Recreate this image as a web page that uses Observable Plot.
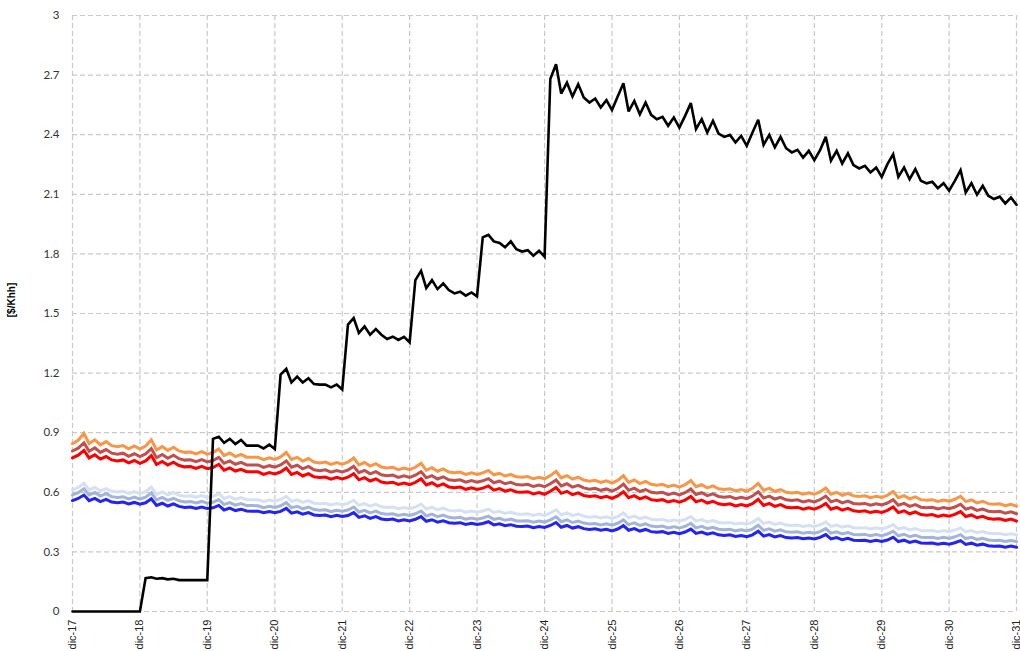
<!DOCTYPE html>
<html>
<head>
<meta charset="utf-8">
<script src="https://cdn.jsdelivr.net/npm/d3@7"></script>
<script src="https://cdn.jsdelivr.net/npm/@observablehq/plot@0.6"></script>
<style>
  html, body { margin: 0; padding: 0; background: #fff; }
  #chart { width: 1020px; height: 651px; }
</style>
</head>
<body>
<div id="chart"></div>
<script>
// Monthly series, dic-17 .. dic-31 (169 months)
const xTickLabels = ["dic-17","dic-18","dic-19","dic-20","dic-21","dic-22","dic-23","dic-24","dic-25","dic-26","dic-27","dic-28","dic-29","dic-30","dic-31"];
const yTicks = [0, 0.3, 0.6, 0.9, 1.2, 1.5, 1.8, 2.1, 2.4, 2.7, 3];

const seriesBlack = [
  0,0,0,0,0,0,0,0,0,0,0,0,0,
  0.168,0.172,0.165,0.168,0.162,0.165,0.158,0.158,0.158,0.158,0.158,0.158,
  0.869,0.880,0.849,0.869,0.843,0.864,0.835,0.835,0.835,0.821,0.840,0.818,
  1.192,1.221,1.153,1.182,1.153,1.174,1.145,1.142,1.142,1.128,1.142,1.117,
  1.444,1.477,1.402,1.435,1.393,1.422,1.393,1.372,1.383,1.367,1.383,1.355,
  1.668,1.715,1.628,1.668,1.623,1.651,1.618,1.601,1.610,1.590,1.606,1.586,
  1.883,1.896,1.863,1.855,1.833,1.863,1.824,1.812,1.819,1.791,1.816,1.786,
  2.680,2.755,2.607,2.662,2.592,2.654,2.587,2.562,2.582,2.537,2.574,2.524,
  2.592,2.659,2.517,2.570,2.503,2.562,2.500,2.478,2.490,2.445,2.487,2.436,
  2.495,2.559,2.428,2.478,2.411,2.470,2.406,2.389,2.399,2.361,2.394,2.344,
  2.411,2.475,2.349,2.399,2.336,2.389,2.332,2.311,2.324,2.285,2.319,2.272,
  2.322,2.389,2.269,2.319,2.255,2.306,2.247,2.230,2.243,2.210,2.235,2.188,
  2.252,2.302,2.188,2.235,2.176,2.227,2.168,2.155,2.163,2.131,2.156,2.118,
  2.168,2.222,2.109,2.156,2.098,2.143,2.093,2.076,2.088,2.054,2.084,2.047
];

const seriesOrange = [
  0.845,
  0.862,0.897,0.845,0.864,0.839,0.855,0.835,0.830,0.835,0.819,0.833,0.818,
  0.833,0.864,0.813,0.830,0.810,0.827,0.808,0.801,0.803,0.793,0.805,0.792,
  0.800,0.818,0.785,0.798,0.780,0.791,0.777,0.777,0.777,0.764,0.774,0.766,
  0.778,0.801,0.765,0.776,0.757,0.770,0.752,0.748,0.752,0.740,0.750,0.742,
  0.752,0.773,0.738,0.750,0.732,0.744,0.727,0.722,0.726,0.714,0.722,0.714,
  0.726,0.746,0.712,0.724,0.706,0.718,0.702,0.698,0.702,0.690,0.698,0.690,
  0.698,0.710,0.688,0.696,0.682,0.690,0.678,0.676,0.679,0.668,0.676,0.668,
  0.684,0.706,0.672,0.684,0.666,0.676,0.662,0.656,0.660,0.650,0.658,0.646,
  0.660,0.684,0.650,0.662,0.644,0.655,0.640,0.636,0.640,0.628,0.636,0.626,
  0.638,0.659,0.628,0.638,0.622,0.632,0.618,0.614,0.618,0.607,0.614,0.606,
  0.620,0.645,0.610,0.621,0.604,0.614,0.600,0.597,0.600,0.590,0.597,0.590,
  0.602,0.622,0.590,0.600,0.585,0.595,0.582,0.579,0.582,0.573,0.580,0.574,
  0.585,0.604,0.573,0.583,0.567,0.577,0.563,0.560,0.563,0.554,0.561,0.555,
  0.565,0.580,0.553,0.562,0.547,0.555,0.543,0.540,0.542,0.533,0.540,0.530
];

const seriesBrown = [
  0.808,
  0.822,0.849,0.807,0.824,0.801,0.815,0.797,0.792,0.797,0.781,0.794,0.780,
  0.793,0.820,0.774,0.790,0.771,0.787,0.769,0.762,0.764,0.754,0.765,0.753,
  0.760,0.776,0.746,0.758,0.741,0.751,0.738,0.738,0.738,0.725,0.734,0.727,
  0.738,0.758,0.726,0.736,0.718,0.730,0.713,0.709,0.713,0.701,0.710,0.703,
  0.712,0.731,0.699,0.710,0.693,0.704,0.688,0.683,0.687,0.675,0.683,0.675,
  0.686,0.704,0.673,0.684,0.667,0.678,0.663,0.659,0.663,0.651,0.659,0.651,
  0.658,0.669,0.648,0.656,0.643,0.650,0.639,0.637,0.640,0.629,0.636,0.628,
  0.643,0.662,0.632,0.643,0.626,0.635,0.622,0.616,0.620,0.610,0.617,0.606,
  0.619,0.641,0.610,0.621,0.604,0.614,0.600,0.596,0.600,0.588,0.596,0.587,
  0.598,0.617,0.589,0.598,0.583,0.592,0.579,0.575,0.579,0.568,0.575,0.568,
  0.581,0.603,0.571,0.581,0.566,0.575,0.562,0.559,0.562,0.552,0.559,0.552,
  0.563,0.581,0.552,0.561,0.547,0.556,0.544,0.541,0.544,0.535,0.542,0.536,
  0.546,0.563,0.535,0.544,0.529,0.538,0.525,0.522,0.525,0.516,0.523,0.517,
  0.526,0.540,0.515,0.523,0.509,0.516,0.505,0.502,0.504,0.495,0.502,0.492
];

const seriesRed = [
  0.773,
  0.787,0.811,0.773,0.789,0.767,0.780,0.763,0.758,0.763,0.748,0.760,0.746,
  0.758,0.785,0.740,0.755,0.737,0.752,0.735,0.728,0.730,0.720,0.731,0.719,
  0.725,0.741,0.711,0.723,0.707,0.716,0.704,0.703,0.703,0.690,0.699,0.692,
  0.702,0.722,0.690,0.700,0.682,0.694,0.678,0.674,0.677,0.666,0.675,0.667,
  0.676,0.694,0.663,0.674,0.657,0.668,0.652,0.647,0.651,0.640,0.647,0.639,
  0.650,0.668,0.637,0.648,0.631,0.642,0.627,0.623,0.627,0.615,0.623,0.614,
  0.621,0.632,0.611,0.619,0.606,0.613,0.602,0.600,0.603,0.592,0.599,0.590,
  0.605,0.624,0.595,0.605,0.588,0.597,0.584,0.579,0.583,0.573,0.580,0.569,
  0.582,0.603,0.573,0.583,0.567,0.577,0.563,0.559,0.563,0.551,0.559,0.550,
  0.561,0.579,0.552,0.561,0.546,0.555,0.542,0.538,0.542,0.531,0.538,0.531,
  0.543,0.565,0.534,0.544,0.529,0.538,0.525,0.522,0.525,0.515,0.522,0.515,
  0.526,0.544,0.515,0.524,0.510,0.519,0.507,0.504,0.507,0.498,0.505,0.499,
  0.509,0.526,0.498,0.507,0.492,0.501,0.488,0.485,0.488,0.479,0.486,0.480,
  0.489,0.503,0.478,0.486,0.472,0.479,0.468,0.465,0.467,0.458,0.465,0.455
];

const seriesLightBlue = [
  0.612,
  0.624,0.645,0.612,0.625,0.607,0.619,0.605,0.601,0.605,0.594,0.603,0.593,
  0.603,0.626,0.590,0.602,0.587,0.599,0.585,0.580,0.582,0.575,0.583,0.574,
  0.580,0.593,0.569,0.578,0.565,0.573,0.563,0.563,0.563,0.554,0.561,0.555,
  0.564,0.580,0.555,0.562,0.549,0.558,0.545,0.542,0.545,0.536,0.543,0.538,
  0.545,0.560,0.535,0.543,0.530,0.539,0.527,0.523,0.526,0.517,0.523,0.517,
  0.526,0.541,0.516,0.525,0.512,0.520,0.509,0.506,0.509,0.500,0.506,0.500,
  0.506,0.515,0.499,0.504,0.494,0.500,0.491,0.490,0.492,0.484,0.490,0.484,
  0.496,0.512,0.487,0.496,0.483,0.490,0.480,0.475,0.478,0.471,0.477,0.468,
  0.478,0.496,0.471,0.480,0.467,0.475,0.464,0.461,0.464,0.455,0.461,0.454,
  0.463,0.478,0.455,0.463,0.451,0.458,0.448,0.445,0.448,0.440,0.445,0.439,
  0.449,0.468,0.442,0.450,0.438,0.445,0.435,0.433,0.435,0.428,0.433,0.428,
  0.436,0.451,0.428,0.435,0.424,0.431,0.422,0.420,0.422,0.415,0.421,0.416,
  0.424,0.438,0.415,0.423,0.411,0.418,0.408,0.406,0.408,0.402,0.407,0.402,
  0.410,0.421,0.401,0.407,0.397,0.402,0.394,0.392,0.393,0.386,0.391,0.386
];

const seriesGreyBlue = [
  0.587,
  0.598,0.618,0.587,0.599,0.581,0.593,0.578,0.574,0.578,0.567,0.576,0.566,
  0.575,0.597,0.562,0.574,0.559,0.570,0.557,0.551,0.553,0.546,0.554,0.545,
  0.550,0.563,0.539,0.548,0.535,0.543,0.533,0.533,0.532,0.523,0.530,0.524,
  0.532,0.548,0.523,0.530,0.517,0.526,0.513,0.510,0.512,0.503,0.510,0.505,
  0.511,0.526,0.501,0.509,0.496,0.505,0.493,0.489,0.492,0.483,0.489,0.483,
  0.492,0.506,0.481,0.490,0.477,0.485,0.474,0.471,0.474,0.465,0.471,0.465,
  0.471,0.480,0.464,0.469,0.459,0.465,0.456,0.455,0.457,0.449,0.455,0.450,
  0.461,0.477,0.452,0.461,0.448,0.455,0.445,0.440,0.443,0.436,0.442,0.434,
  0.444,0.461,0.437,0.446,0.433,0.441,0.430,0.427,0.430,0.421,0.427,0.420,
  0.429,0.444,0.421,0.429,0.417,0.424,0.414,0.411,0.414,0.406,0.411,0.405,
  0.415,0.434,0.408,0.416,0.404,0.411,0.401,0.399,0.401,0.394,0.399,0.394,
  0.402,0.417,0.394,0.401,0.390,0.397,0.388,0.386,0.388,0.381,0.387,0.382,
  0.390,0.404,0.381,0.389,0.377,0.384,0.374,0.372,0.374,0.368,0.373,0.368,
  0.376,0.387,0.367,0.373,0.363,0.368,0.360,0.358,0.359,0.352,0.357,0.352
];

const seriesBlue = [
  0.558,
  0.569,0.586,0.558,0.569,0.553,0.564,0.551,0.547,0.551,0.541,0.549,0.540,
  0.547,0.567,0.534,0.545,0.531,0.542,0.529,0.524,0.526,0.519,0.526,0.518,
  0.522,0.534,0.511,0.520,0.508,0.515,0.506,0.505,0.505,0.497,0.503,0.497,
  0.504,0.519,0.495,0.502,0.490,0.498,0.486,0.483,0.486,0.477,0.484,0.478,
  0.483,0.498,0.474,0.482,0.469,0.478,0.466,0.462,0.465,0.456,0.462,0.456,
  0.464,0.478,0.454,0.462,0.450,0.457,0.447,0.444,0.447,0.438,0.444,0.438,
  0.443,0.452,0.436,0.441,0.432,0.437,0.429,0.428,0.430,0.422,0.428,0.423,
  0.433,0.448,0.424,0.433,0.420,0.427,0.417,0.413,0.416,0.409,0.414,0.406,
  0.415,0.432,0.409,0.417,0.405,0.413,0.402,0.399,0.402,0.393,0.399,0.392,
  0.400,0.415,0.393,0.400,0.389,0.396,0.386,0.383,0.386,0.378,0.383,0.377,
  0.386,0.404,0.379,0.387,0.375,0.382,0.372,0.370,0.372,0.366,0.370,0.365,
  0.373,0.387,0.365,0.372,0.361,0.368,0.359,0.357,0.359,0.352,0.358,0.353,
  0.360,0.374,0.352,0.359,0.348,0.355,0.345,0.343,0.345,0.339,0.344,0.339,
  0.346,0.357,0.338,0.344,0.334,0.339,0.331,0.329,0.330,0.324,0.329,0.323
];

const seriesList = [
  {name: "Gris azulado claro", values: seriesLightBlue, color: "#D5E1F2", width: 3},
  {name: "Gris azulado", values: seriesGreyBlue, color: "#A2B4D8", width: 3},
  {name: "Azul", values: seriesBlue, color: "#2323F2", width: 3},
  {name: "Naranja", values: seriesOrange, color: "#F79646", width: 3},
  {name: "Marrón", values: seriesBrown, color: "#C0504D", width: 3},
  {name: "Rojo", values: seriesRed, color: "#FF0000", width: 3},
  {name: "Negro", values: seriesBlack, color: "#000000", width: 2.6}
];

const months = d3.utcMonth.range(new Date(Date.UTC(2017, 11, 1)), new Date(Date.UTC(2032, 0, 1)));
const decTicks = months.filter(d => d.getUTCMonth() === 11);
const tickLabelOf = new Map(decTicks.map((d, i) => [+d, xTickLabels[i]]));

const marks = [
  Plot.gridY(yTicks, {stroke: "#c9c9c9", strokeOpacity: 1, strokeWidth: 1.2, strokeDasharray: "5,3"}),
  Plot.gridX(decTicks, {stroke: "#c9c9c9", strokeOpacity: 1, strokeWidth: 1.2, strokeDasharray: "5,3"}),
  Plot.axisY(yTicks, {
    tickSize: 0, tickPadding: 13, label: null,
    tickFormat: d => String(+d.toFixed(1)),
    fontSize: 11.5, fontFamily: "Lato, 'Open Sans', sans-serif", fill: "#333"
  }),
  Plot.axisX(decTicks, {
    tickSize: 0, tickPadding: 8, label: null, tickRotate: -90,
    tickFormat: d => tickLabelOf.get(+d),
    fontSize: 11, fontFamily: "'Liberation Sans', Arial, sans-serif", fill: "#222"
  })
];

for (const s of seriesList) {
  const data = months.map((m, i) => ({date: m, value: s.values[i]}));
  marks.push(Plot.lineY(data, {
    x: "date", y: "value", stroke: s.color, strokeWidth: s.width,
    strokeLinejoin: "miter", strokeMiterlimit: 3
  }));
}

const chart = Plot.plot({
  width: 1020,
  height: 651,
  marginLeft: 72,
  marginRight: 4,
  marginTop: 15,
  marginBottom: 40,
  x: {type: "utc", domain: [months[0], months[months.length - 1]]},
  y: {domain: [0, 3]},
  style: {background: "#fff", overflow: "visible"},
  marks
});

const svg = d3.select(chart);
svg.append("text")
  .attr("transform", "translate(15,300) rotate(-90)")
  .attr("text-anchor", "middle")
  .attr("font-family", "'Liberation Sans', Arial, sans-serif")
  .attr("font-size", 10)
  .attr("font-weight", "bold")
  .attr("fill", "#000")
  .text("[$/Khh]");

document.getElementById("chart").appendChild(chart);
</script>
</body>
</html>
